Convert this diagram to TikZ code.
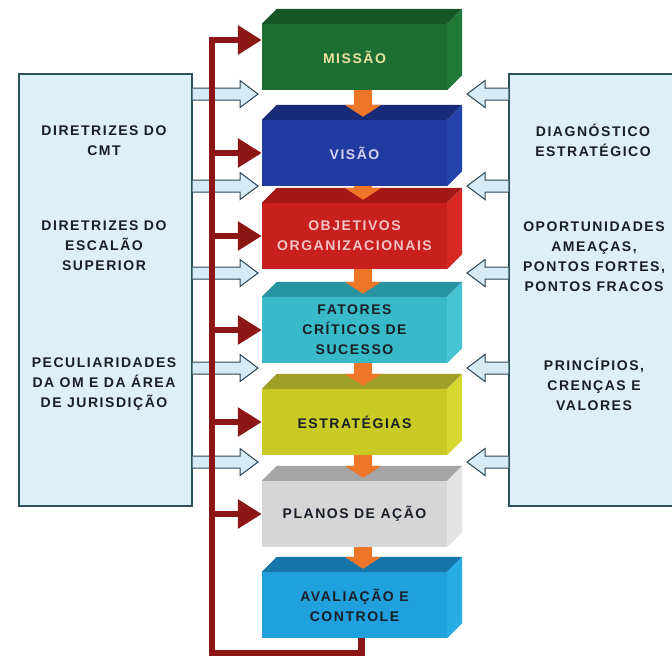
\documentclass[tikz,border=0pt]{standalone}
\usepackage{fontspec}
\setmainfont{Liberation Sans}[LetterSpace=11]
\usepackage{xcolor}
\usetikzlibrary{arrows.meta,calc,positioning}

\definecolor{sidefill}{RGB}{221,239,248}
\definecolor{sideline}{RGB}{45,80,95}
\definecolor{hollowfill}{RGB}{215,235,246}
\definecolor{hollowline}{RGB}{40,70,85}
\definecolor{busred}{RGB}{140,22,22}
\definecolor{flowcol}{RGB}{238,118,40}
\definecolor{misF}{RGB}{28,110,50}   \definecolor{misT}{RGB}{22,85,38}    \definecolor{misS}{RGB}{32,120,56}
\definecolor{visF}{RGB}{32,58,160}   \definecolor{visT}{RGB}{24,42,120}   \definecolor{visS}{RGB}{36,66,170}
\definecolor{objF}{RGB}{200,32,30}   \definecolor{objT}{RGB}{165,22,22}   \definecolor{objS}{RGB}{215,40,35}
\definecolor{fatF}{RGB}{56,186,200}  \definecolor{fatT}{RGB}{40,148,162}  \definecolor{fatS}{RGB}{70,196,210}
\definecolor{estF}{RGB}{202,202,36}  \definecolor{estT}{RGB}{160,160,40}  \definecolor{estS}{RGB}{215,215,50}
\definecolor{plaF}{RGB}{214,214,214} \definecolor{plaT}{RGB}{165,165,165} \definecolor{plaS}{RGB}{228,228,228}
\definecolor{avaF}{RGB}{32,160,220}  \definecolor{avaT}{RGB}{22,118,170}  \definecolor{avaS}{RGB}{40,172,228}
\definecolor{mistext}{RGB}{235,225,160}
\definecolor{vistext}{RGB}{215,210,240}
\definecolor{objtext}{RGB}{245,195,195}
\definecolor{darktext}{RGB}{25,30,40}

\begin{document}
\begin{tikzpicture}[x=1pt, y=-1pt,
    sidebox/.style={rectangle, draw=sideline, fill=sidefill, line width=1.2pt, minimum width=173pt, minimum height=432pt},
    sidetext/.style={align=center, text=darktext, font=\bfseries\fontsize{14}{20}\selectfont},
    block/.style={rectangle, minimum width=185pt, minimum height=66pt, inner sep=0pt, align=center, text=darktext, font=\bfseries\fontsize{14}{20}\selectfont},
    flow/.style={line width=18pt, draw=flowcol, -{Triangle[length=12pt,width=36pt]}},
    feed/.style={line width=6.5pt, draw=busred, line join=miter, -{Triangle[length=24pt,width=28pt]}},
    hollow/.style={draw=hollowline, fill=hollowfill, line width=1pt, line join=miter}
]
    \useasboundingbox (0,0) rectangle (672,659);

    % Side panels
    \node[sidebox] (lbox) at (105.5,290) {};
    \node[sidebox, minimum width=180pt] (rbox) at (599,290) {};

    \node[sidetext] (cmt) at (104,141) {DIRETRIZES DO\\CMT};
    \node[sidetext] (escalao) at (104,246) {DIRETRIZES DO\\ESCALÃO\\SUPERIOR};
    \node[sidetext] (peculiar) at (104,384) {PECULIARIDADES\\DA OM E DA ÁREA\\DE JURISDIÇÃO};
    \node[sidetext] (diag) at (593,140) {DIAGNÓSTICO\\ESTRATÉGICO};
    \node[sidetext] (swot) at (594,257) {OPORTUNIDADES\\AMEAÇAS,\\PONTOS FORTES,\\PONTOS FRACOS};
    \node[sidetext] (principios) at (594,384) {PRINCÍPIOS,\\CRENÇAS E\\VALORES};

    % Hollow arrows
    \foreach \yy [count=\i] in {94,186,273,368,462} {
        \coordinate (tipL\i) at (258,\yy);
        \coordinate (tipR\i) at (467,\yy);
        \draw[hollow] let \p1=(lbox.east |- tipL\i), \p2=(tipL\i) in
            (\x1,\y1-6pt) -- (\x2-18pt,\y1-6pt) -- (\x2-18pt,\y1-13.5pt) -- (\p2)
            -- (\x2-18pt,\y1+13.5pt) -- (\x2-18pt,\y1+6pt) -- (\x1,\y1+6pt);
        \draw[hollow] let \p1=(rbox.west |- tipR\i), \p2=(tipR\i) in
            (\x1,\y1-6pt) -- (\x2+18pt,\y1-6pt) -- (\x2+18pt,\y1-13.5pt) -- (\p2)
            -- (\x2+18pt,\y1+13.5pt) -- (\x2+18pt,\y1+6pt) -- (\x1,\y1+6pt);
    }

    % Central blocks
    \node[block, fill=misF, text=mistext] (missao) at (354.5,57) {MISSÃO};
    \node[block, fill=visF, text=vistext] (visao) at (354.5,153) {VISÃO};
    \node[block, fill=objF, text=objtext] (objetivos) at (354.5,236) {OBJETIVOS\\ORGANIZACIONAIS};
    \node[block, fill=fatF] (fatores) at (354.5,330) {FATORES\\CRÍTICOS DE\\SUCESSO};
    \node[block, fill=estF] (estrategias) at (354.5,422) {ESTRATÉGIAS};
    \node[block, fill=plaF] (planos) at (354.5,514) {PLANOS DE AÇÃO};
    \node[block, fill=avaF] (avaliacao) at (354.5,605) {AVALIAÇÃO E\\CONTROLE};

    \foreach \b/\t/\s in {missao/misT/misS, visao/visT/visS, objetivos/objT/objS, fatores/fatT/fatS,
                          estrategias/estT/estS, planos/plaT/plaS, avaliacao/avaT/avaS} {
        \fill[\t] (\b.north west) -- ++(15,-15) -- ($(\b.north east)+(15,-15)$) -- (\b.north east) -- cycle;
        \fill[\s] (\b.north east) -- ++(15,-15) -- ($(\b.south east)+(15,-15)$) -- (\b.south east) -- cycle;
    }

    % Flow between blocks
    \foreach \a/\b in {missao/visao, visao/objetivos, objetivos/fatores, fatores/estrategias,
                       estrategias/planos, planos/avaliacao}
        \draw[flow] ([xshift=8.5pt]\a.south) -- ([xshift=8.5pt,yshift=3pt]\b.north);

    % Feedback loop
    \coordinate (busbot) at (212,653);
    \draw[feed] ([xshift=7pt]avaliacao.south) |- (busbot) |- ($(missao.west)+(0,-17)$);
    \foreach \b in {visao, objetivos, fatores, estrategias, planos}
        \draw[feed] (busbot |- \b.west) -- (\b.west);
\end{tikzpicture}
\end{document}
